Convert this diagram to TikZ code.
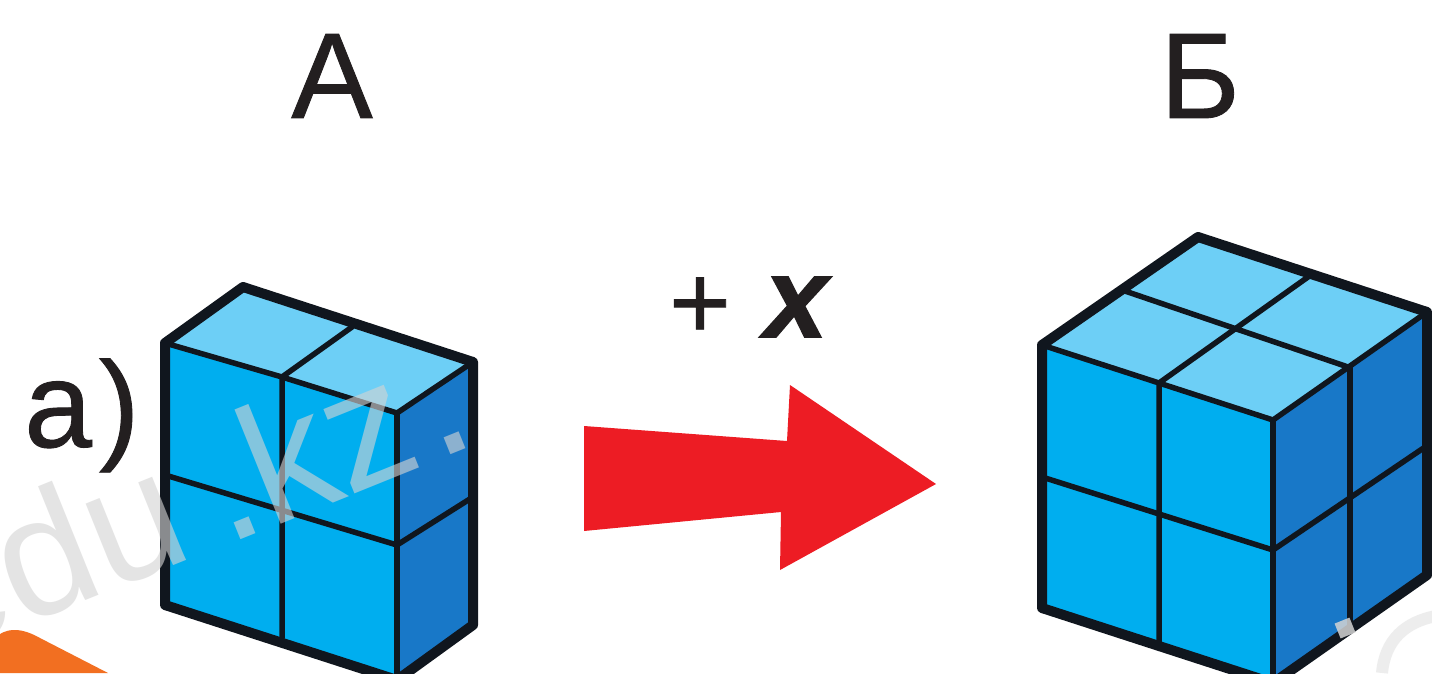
\documentclass[tikz,border=0pt]{standalone}
\usepackage{fontspec}
\setmainfont{Liberation Sans}
\newfontfamily\heavyfont[FakeBold=0.7]{Liberation Sans}
\newfontfamily\heavyxfont[FakeBold=1.2]{Liberation Sans Bold Italic}
\definecolor{frontc}{HTML}{00AEEF}
\definecolor{topc}{HTML}{6DCFF6}
\definecolor{sidec}{HTML}{1878C8}
\definecolor{inkc}{HTML}{10161E}
\definecolor{arrowc}{HTML}{ED1C24}
\definecolor{orangec}{HTML}{F26F21}
\definecolor{textc}{HTML}{231F20}
\definecolor{markc}{HTML}{D4D4D4}
\tikzset{
  outer/.style={draw=inkc,line width=10pt,line join=round,line cap=round},
  inner/.style={draw=inkc,line width=5.5pt,line cap=round},
  biglabel/.style={font=\fontsize{122}{122}\selectfont\heavyfont,text=textc,inner sep=0pt},
  watermark/.style={font=\fontsize{170}{170}\selectfont,text=markc,opacity=0.62,inner sep=0pt,rotate=22},
}
\begin{document}
\begin{tikzpicture}[x=1pt,y=-1pt]
\useasboundingbox (0,0) rectangle (1432,673);
\clip (0,0) rectangle (1432,673);
\fill[white] (0,0) rectangle (1432,673);
% orange corner
\fill[orangec] (0,634) .. controls (10,628) and (22,628) .. (40,638) -- (108,673) -- (0,673) -- cycle;
% cube A
\fill[frontc] (165,343) -- (397,413) -- (397,683) -- (165,605) -- cycle;
\fill[topc] (165,343) -- (243,287) -- (473,362) -- (397,413) -- cycle;
\fill[sidec] (397,413) -- (473,362) -- (473,625) -- (397,683) -- cycle;
\draw[inner] (352,327) -- (282,377) -- (282,638);
\draw[inner] (165,475) -- (397,545) -- (473,497);
\draw[inner] (165,343) -- (282,377) -- (397,413) -- (473,362);
\draw[inner] (397,413) -- (397,683);
\draw[outer] (165,343) -- (243,287) -- (473,362) -- (473,625) -- (397,680) -- (165,605) -- cycle;
% cube B
\fill[frontc] (1042,345) -- (1273,420) -- (1273,683) -- (1042,608) -- cycle;
\fill[topc] (1042,345) -- (1198,237) -- (1427,312) -- (1273,420) -- cycle;
\fill[sidec] (1273,420) -- (1427,312) -- (1427,575) -- (1273,683) -- cycle;
\draw[inner] (1122,290) -- (1348,367);
\draw[inner] (1308,277) -- (1159,383) -- (1159,645);
\draw[inner] (1350,367) -- (1350,630);
\draw[inner] (1042,477) -- (1273,550) -- (1428,445);
\draw[inner] (1042,345) -- (1273,420) -- (1427,312);
\draw[inner] (1273,420) -- (1273,683);
\draw[outer] (1042,345) -- (1198,237) -- (1427,312) -- (1427,575) -- (1273,683) -- (1042,608) -- cycle;
% arrow
\fill[arrowc] (584,426) -- (787,441) -- (790,385) -- (936,484) -- (780,570) -- (781,512) -- (584,531) -- cycle;
% labels
\node[biglabel] (labelA) at (332,76) {А};
\node[biglabel] (labelB) at (1200,76) {Б};
\node[biglabel,anchor=base west] (labela) at (24,447) {а\kern7pt)};
\node[font=\fontsize{106}{106}\selectfont\heavyfont,text=textc,inner sep=0pt] (plus) at (700,308) {+};
\node[font=\fontsize{114}{114}\selectfont\heavyxfont,text=textc,inner sep=0pt] (xvar) at (796,307) {x};
% watermark
\node[watermark,anchor=base west] (markA) at (-66,662) {edu};
\node[watermark,anchor=base west] (markB) at (226,546) {.kz\kern10pt.};
\fill[markc,opacity=.85,rotate around={22:(1345,628)}] (1337,620) rectangle (1353,636);
\draw[markc,opacity=.4,line width=12pt] (1382,673) .. controls (1385,640) and (1405,622) .. (1436,616);
\end{tikzpicture}
\end{document}
